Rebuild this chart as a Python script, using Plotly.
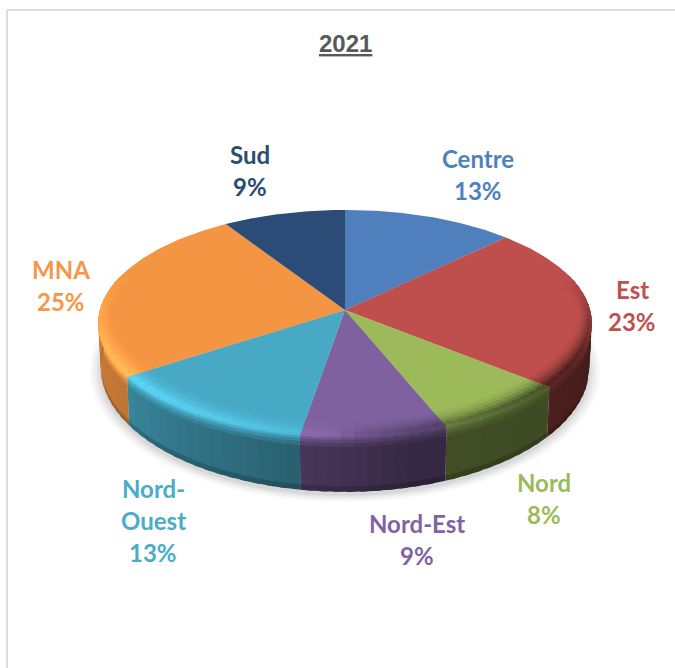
import numpy as np
import plotly.graph_objects as go

categories = ["Centre", "Est", "Nord", "Nord-Est", "Nord-Ouest", "MNA", "Sud"]
values = [12.6, 23.4, 8.0, 8.6, 13.0, 25.4, 9.0]
title_text = "2021"

colors = ["#4F7FBC", "#BE4F4C", "#9CBA5A", "#7F619F", "#48A9C5", "#F39543", "#2B4C76"]
text_colors = ["#4F81BD", "#C0504D", "#9BBB59", "#8064A2", "#4BACC6", "#F79646", "#2A4B74"]
label_lines = [["Centre"], ["Est"], ["Nord"], ["Nord-Est"], ["Nord-", "Ouest"], ["MNA"], ["Sud"]]
label_x = [478, 632, 544, 417, 153, 61, 250]
label_y = [158, 289, 482, 523, 488, 269, 154]
line_gap = 32

CX, CY, RX, RY, K, DEPTH = 345, 310, 245, 112, 0.119, 42.5


def hex2rgb(h):
    return np.array([int(h[i:i + 2], 16) for i in (1, 3, 5)], float)


def rgb2hex(c):
    c = np.clip(np.round(c), 0, 255).astype(int)
    return "#%02x%02x%02x" % tuple(c)


def project(theta, r=1.0, drop=0.0):
    u, v = r * np.sin(theta), r * np.cos(theta)
    den = 1 + K * v
    shrink = 1 - 0.01 * drop
    x = CX + RX * u / den * shrink
    y = CY - RY * v / den + drop * DEPTH / den ** 2
    return x, y


def wall_factor(theta):
    deg = np.degrees(theta)
    return np.interp(deg, [60, 90, 130, 165, 185, 200, 235, 270, 300],
                     [0.3, 0.33, 0.40, 0.42, 0.54, 0.62, 0.78, 0.85, 0.87])


def rim_params(theta):
    s = -np.sin(theta)
    w = np.clip((0.3 - np.cos(theta)) / 0.8, 0, 1)
    return s, w


def rim_width(theta):
    return 0.105 * abs(np.cos(theta)) + 0.045 * abs(np.sin(theta))


def shade(base, theta, p):
    s, w = rim_params(theta)
    amt = abs(s) ** 0.6 * w * p
    if s >= 0:
        return base * (1 + 0.32 * amt)
    return base * (1 - 0.72 * amt)


fracs = np.array(values) / sum(values)
edges = np.concatenate([[0], np.cumsum(fracs)]) * 2 * np.pi

polys = []


def add_poly(layer, color, xs, ys):
    polys.append((layer, color, list(xs), list(ys)))


STEP = np.radians(3)
OVER = np.radians(1.5)
rim_fracs = [1.0, 0.8, 0.62, 0.45, 0.3, 0.15]
rim_prof = [0.08, 0.22, 0.42, 0.65, 0.9, 0.85]
wall_edges = [0.0, 0.05, 0.11, 0.18, 0.9, 1.0]

for i, col in enumerate(colors):
    base = hex2rgb(col)
    a0, a1 = edges[i], edges[i + 1]
    n = max(2, int(np.ceil((a1 - a0) / STEP)))
    ts = np.linspace(a0, a1, n + 1)
    for t0, t1 in zip(ts[:-1], ts[1:]):
        tm = (t0 + t1) / 2
        t1o = min(t1 + OVER, a1)
        if np.cos(tm) < 0.35:
            f = wall_factor(tm)
            wall_c = base * f
            top_c = shade(base, tm, 0.8)
            mix = [0.75, 0.45, 0.2, 0, 0]
            for j in range(len(wall_edges) - 1):
                d0, d1 = wall_edges[j], wall_edges[j + 1]
                c = wall_c * (1 - mix[j]) + top_c * mix[j]
                if j == len(wall_edges) - 2:
                    c = wall_c * 0.82
                x0, y0 = project(t0, 1, d0)
                x1, y1 = project(t1o, 1, d0)
                x2, y2 = project(t1o, 1, d1 + 0.02 if j < len(wall_edges) - 2 else d1)
                x3, y3 = project(t0, 1, d1 + 0.02 if j < len(wall_edges) - 2 else d1)
                add_poly(1, rgb2hex(c), [x0, x1, x2, x3], [y0, y1, y2, y3])
        if rim_params(tm)[1] > 0:
            for j, fr in enumerate(rim_fracs):
                c = shade(base, tm, rim_prof[j])
                x0, y0 = project(t0, 1 - rim_width(t0) * fr)
                x1, y1 = project(t1o, 1 - rim_width(t1o) * fr)
                x2, y2 = project(t1o, 1.0)
                x3, y3 = project(t0, 1.0)
                add_poly(3, rgb2hex(c), [x0, x1, x2, x3], [y0, y1, y2, y3])
    arc = np.linspace(a0, a1, 100)
    xa, ya = project(arc, 1.0)
    add_poly(2, col, [CX] + list(xa), [CY] + list(ya))

fig = go.Figure()

# soft ground shadow under the pie
circle = np.linspace(0, 2 * np.pi, 241)
for grow, alpha in [(1.045, 0.035), (1.035, 0.04), (1.025, 0.05), (1.015, 0.06), (1.005, 0.08)]:
    xs, ys = project(circle, grow, 1.0)
    fig.add_trace(go.Scatter(x=xs, y=ys + 3, mode="lines", fill="toself",
                             fillcolor=f"rgba(90,90,90,{alpha})", line=dict(width=0),
                             hoverinfo="skip", showlegend=False))

for layer, color, xs, ys in sorted(polys, key=lambda p: p[0]):
    fig.add_trace(go.Scatter(x=xs + [xs[0]], y=ys + [ys[0]], mode="lines", fill="toself", fillcolor=color,
                             line=dict(width=0), hoverinfo="skip", showlegend=False))

annotations = [dict(x=345, y=43, xref="x", yref="y", text=f"<u><b>{title_text}</b></u>", showarrow=False,
                    font=dict(family="Liberation Sans", size=24, color="#595959"))]
for i, cat in enumerate(categories):
    lines = label_lines[i] + [f"{round(values[i])}%"]
    for j, line in enumerate(lines):
        annotations.append(dict(x=label_x[i], y=label_y[i] + j * line_gap, xref="x", yref="y",
                                text=f"<b>{line}</b>", showarrow=False,
                                font=dict(family="Lato", size=24, color=text_colors[i])))

fig.update_layout(
    width=675, height=668, margin=dict(l=0, r=0, t=0, b=0),
    paper_bgcolor="white", plot_bgcolor="white", showlegend=False,
    xaxis=dict(range=[0, 675], visible=False, fixedrange=True),
    yaxis=dict(range=[668, 0], visible=False, fixedrange=True),
    annotations=annotations,
    shapes=[
        dict(type="line", xref="x", yref="y", x0=7, x1=7, y0=10, y1=668, line=dict(color="#DDDDDD", width=2)),
        dict(type="line", xref="x", yref="y", x0=7, x1=675, y0=10, y1=10, line=dict(color="#DDDDDD", width=2)),
    ],
)
fig.write_html("out.html", config=dict(displayModeBar=False),
               post_script="document.body.style.margin='0';document.body.style.overflow='hidden';")
